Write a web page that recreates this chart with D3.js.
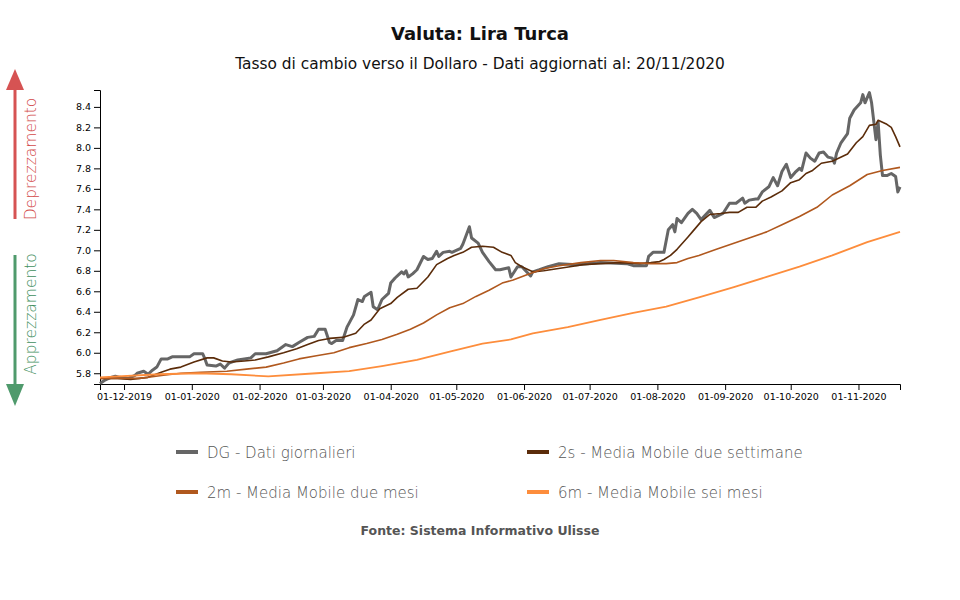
<!DOCTYPE html>
<html><head><meta charset="utf-8">
<script src="https://cdn.jsdelivr.net/npm/d3@7"></script>
<style>
body{margin:0;background:#fff;}
svg{display:block;font-family:"DejaVu Sans",sans-serif;}
</style></head>
<body><svg id="c" width="960" height="600"></svg>
<script>
const title = "Valuta: Lira Turca";
const subtitle = "Tasso di cambio verso il Dollaro - Dati aggiornati al: 20/11/2020";
const source = "Fonte: Sistema Informativo Ulisse";
const seriesNames = ["DG - Dati giornalieri","2s - Media Mobile due settimane","2m - Media Mobile due mesi","6m - Media Mobile sei mesi"];
const xDomain = ["2019-11-20","2020-11-20"];
const yDomain = [5.695, 8.565];
const yTicks = [5.8,6.0,6.2,6.4,6.6,6.8,7.0,7.2,7.4,7.6,7.8,8.0,8.2,8.4];
const xTicks = ["2019-12-01","2020-01-01","2020-02-01","2020-03-01","2020-04-01","2020-05-01","2020-06-01","2020-07-01","2020-08-01","2020-09-01","2020-10-01","2020-11-01"];

const dgDates = ["2019-11-20","2019-11-22","2019-11-25","2019-11-27","2019-11-29","2019-12-03","2019-12-06","2019-12-07","2019-12-10","2019-12-12","2019-12-14","2019-12-16","2019-12-18","2019-12-21","2019-12-23","2019-12-27","2019-12-31",
"2020-01-02","2020-01-06","2020-01-07","2020-01-08","2020-01-12","2020-01-14","2020-01-16","2020-01-18","2020-01-22","2020-01-25","2020-01-28","2020-01-30",
"2020-02-04","2020-02-09","2020-02-13","2020-02-16","2020-02-19","2020-02-23","2020-02-26","2020-02-28",
"2020-03-02","2020-03-04","2020-03-05","2020-03-07","2020-03-10","2020-03-12","2020-03-15","2020-03-17","2020-03-19","2020-03-20","2020-03-23","2020-03-24","2020-03-26","2020-03-28","2020-03-31",
"2020-04-01","2020-04-03","2020-04-06","2020-04-07","2020-04-08","2020-04-09","2020-04-11","2020-04-13","2020-04-16","2020-04-18","2020-04-20","2020-04-22","2020-04-23","2020-04-25","2020-04-28","2020-04-29",
"2020-05-03","2020-05-04","2020-05-07","2020-05-08","2020-05-11","2020-05-13","2020-05-16","2020-05-19","2020-05-21","2020-05-25","2020-05-26","2020-05-29","2020-05-31",
"2020-06-04","2020-06-05","2020-06-08","2020-06-12","2020-06-17","2020-06-25",
"2020-07-06","2020-07-18","2020-07-21","2020-07-27","2020-07-28","2020-07-30",
"2020-08-04","2020-08-06","2020-08-08","2020-08-09","2020-08-10","2020-08-12","2020-08-15","2020-08-17","2020-08-19","2020-08-21","2020-08-25","2020-08-27","2020-08-31",
"2020-09-03","2020-09-06","2020-09-09","2020-09-10","2020-09-12","2020-09-15","2020-09-16","2020-09-18","2020-09-21","2020-09-23","2020-09-25","2020-09-27","2020-09-29",
"2020-10-01","2020-10-03","2020-10-05","2020-10-06","2020-10-08","2020-10-10","2020-10-12","2020-10-14","2020-10-16","2020-10-18","2020-10-20","2020-10-21","2020-10-22","2020-10-24","2020-10-27","2020-10-28","2020-10-30",
"2020-11-02","2020-11-03","2020-11-04","2020-11-06","2020-11-07","2020-11-09","2020-11-10","2020-11-11","2020-11-12","2020-11-14","2020-11-16","2020-11-18","2020-11-19","2020-11-20"];
const dgValues = [5.70,5.73,5.76,5.77,5.76,5.75,5.78,5.80,5.82,5.79,5.83,5.86,5.94,5.94,5.96,5.96,5.96,
5.99,5.99,5.94,5.88,5.87,5.89,5.85,5.90,5.93,5.94,5.95,5.99,
5.99,6.02,6.08,6.06,6.10,6.15,6.16,6.23,
6.23,6.10,6.09,6.12,6.12,6.25,6.37,6.52,6.50,6.55,6.59,6.45,6.42,6.52,6.58,
6.68,6.73,6.79,6.77,6.80,6.74,6.77,6.81,6.94,6.91,6.92,6.99,6.94,6.98,6.99,6.98,
7.02,7.06,7.23,7.12,7.07,6.98,6.89,6.81,6.81,6.83,6.74,6.84,6.84,
6.75,6.79,6.81,6.84,6.87,6.86,
6.88,6.87,6.85,6.85,6.94,6.98,
6.98,7.20,7.25,7.18,7.31,7.27,7.36,7.40,7.36,7.30,7.39,7.32,7.36,
7.46,7.46,7.51,7.46,7.49,7.50,7.50,7.57,7.62,7.71,7.63,7.77,7.84,
7.71,7.76,7.80,7.78,7.95,7.90,7.87,7.95,7.96,7.91,7.90,7.85,7.95,8.05,8.14,8.29,8.37,
8.44,8.52,8.44,8.54,8.44,8.08,8.25,7.93,7.73,7.73,7.75,7.72,7.57,7.62];

const ma2sDates = ["2019-11-20","2019-11-28","2019-12-04","2019-12-12","2019-12-18","2019-12-22","2019-12-27","2020-01-02","2020-01-08","2020-01-11","2020-01-15","2020-01-19","2020-01-25","2020-01-30","2020-02-05","2020-02-12","2020-02-18","2020-02-23","2020-02-28","2020-03-04","2020-03-10","2020-03-16","2020-03-20","2020-03-23","2020-03-27","2020-04-01","2020-04-04","2020-04-09","2020-04-13","2020-04-18","2020-04-22","2020-04-27","2020-04-30","2020-05-04","2020-05-08","2020-05-13","2020-05-18","2020-05-22","2020-05-26","2020-05-28","2020-05-31","2020-06-05","2020-06-10","2020-06-16","2020-06-22","2020-06-28","2020-07-06","2020-07-15","2020-07-24","2020-07-29","2020-08-02","2020-08-04","2020-08-07","2020-08-10","2020-08-15","2020-08-17","2020-08-21","2020-08-25","2020-08-30","2020-09-03","2020-09-07","2020-09-11","2020-09-15","2020-09-18","2020-09-22","2020-09-27","2020-10-01","2020-10-05","2020-10-08","2020-10-11","2020-10-15","2020-10-20","2020-10-27","2020-10-31","2020-11-03","2020-11-06","2020-11-09","2020-11-10","2020-11-14","2020-11-16","2020-11-18","2020-11-20"];
const ma2sValues = [5.75,5.75,5.74,5.76,5.81,5.84,5.86,5.91,5.95,5.95,5.92,5.91,5.92,5.93,5.96,6.00,6.04,6.08,6.12,6.14,6.15,6.19,6.28,6.32,6.43,6.48,6.54,6.62,6.63,6.74,6.86,6.92,6.95,6.98,7.03,7.04,7.03,6.98,6.95,6.88,6.84,6.79,6.80,6.82,6.84,6.86,6.87,6.88,6.87,6.88,6.89,6.91,6.95,7.01,7.13,7.18,7.28,7.35,7.36,7.37,7.37,7.42,7.42,7.48,7.52,7.58,7.66,7.69,7.75,7.78,7.85,7.87,7.94,8.05,8.11,8.22,8.23,8.27,8.23,8.20,8.11,8.01];

const ma2mDates = ["2019-11-20","2019-12-08","2019-12-19","2019-12-27","2020-01-05","2020-01-17","2020-01-26","2020-02-04","2020-02-12","2020-02-19","2020-02-27","2020-03-06","2020-03-13","2020-03-21","2020-03-28","2020-04-04","2020-04-10","2020-04-16","2020-04-22","2020-04-28","2020-05-04","2020-05-10","2020-05-16","2020-05-22","2020-05-27","2020-06-02","2020-06-10","2020-06-17","2020-06-27","2020-07-06","2020-07-12","2020-07-21","2020-07-29","2020-08-05","2020-08-10","2020-08-15","2020-08-20","2020-08-28","2020-09-05","2020-09-12","2020-09-20","2020-09-27","2020-10-05","2020-10-13","2020-10-20","2020-10-28","2020-11-05","2020-11-12","2020-11-20"];
const ma2mValues = [5.75,5.75,5.78,5.80,5.81,5.82,5.84,5.86,5.90,5.94,5.97,6.00,6.05,6.09,6.13,6.18,6.23,6.29,6.37,6.44,6.48,6.55,6.61,6.68,6.71,6.76,6.82,6.85,6.88,6.90,6.90,6.88,6.87,6.87,6.88,6.92,6.95,7.01,7.07,7.12,7.18,7.25,7.33,7.42,7.54,7.63,7.74,7.78,7.81];

const ma6mDates = ["2019-11-20","2019-12-17","2020-01-04","2020-01-19","2020-02-05","2020-02-27","2020-03-13","2020-03-28","2020-04-13","2020-04-28","2020-05-13","2020-05-26","2020-06-05","2020-06-21","2020-07-06","2020-07-21","2020-08-05","2020-08-20","2020-09-05","2020-09-20","2020-10-05","2020-10-20","2020-11-05","2020-11-20"];
const ma6mValues = [5.76,5.79,5.80,5.79,5.77,5.80,5.82,5.87,5.93,6.01,6.09,6.13,6.19,6.25,6.32,6.39,6.45,6.54,6.64,6.74,6.84,6.95,7.08,7.18];

const colors = ["#666666","#5b2c0a","#b0581e","#fd8d3c"];
const widths = [3,1.6,1.6,1.8];

const parse = d3.timeParse("%Y-%m-%d");
const svg = d3.select("#c");
const M = {left:100,right:900,top:90,bottom:384};

const x = d3.scaleTime().domain(xDomain.map(parse)).range([M.left,M.right]);
const y = d3.scaleLinear().domain(yDomain).range([M.bottom,M.top]);

svg.append("text").attr("x",480).attr("y",40).attr("text-anchor","middle")
  .attr("font-size",18).attr("font-weight","bold").attr("fill","#111").text(title);
svg.append("text").attr("x",480).attr("y",69).attr("text-anchor","middle")
  .attr("font-size",15.4).attr("fill","#111").text(subtitle);

// axes
const gx = svg.append("g").attr("transform",`translate(0,${M.bottom})`)
  .call(d3.axisBottom(x).tickValues(xTicks.map(parse)).tickFormat(d3.timeFormat("%d-%m-%Y")));
gx.selectAll("text").attr("font-size",9.5).attr("font-family","DejaVu Sans").attr("fill","#000");
const gy = svg.append("g").attr("transform",`translate(${M.left},0)`)
  .call(d3.axisLeft(y).tickValues(yTicks).tickFormat(d3.format(".1f")));
gy.selectAll("text").attr("font-size",9.5).attr("font-family","DejaVu Sans").attr("fill","#000");

const series = [
  [dgDates,dgValues],[ma2sDates,ma2sValues],[ma2mDates,ma2mValues],[ma6mDates,ma6mValues]
];
const line = d3.line().x(d=>x(d[0])).y(d=>y(d[1]));
series.forEach((s,i)=>{
  const pts = s[0].map((d,j)=>[parse(d),s[1][j]]);
  svg.append("path").datum(pts).attr("d",line).attr("fill","none")
    .attr("stroke",colors[i]).attr("stroke-width",widths[i]).attr("stroke-linejoin","round");
});

// arrows
const red="#d65353", green="#4f9a6c";
svg.append("line").attr("x1",15).attr("x2",15).attr("y1",88).attr("y2",219).attr("stroke",red).attr("stroke-width",3);
svg.append("path").attr("d","M15,69 L24,90 L6,90 Z").attr("fill",red);
svg.append("text").attr("transform","translate(36,159) rotate(-90)").attr("text-anchor","middle")
  .attr("font-size",15.5).attr("font-weight",200).attr("fill","#d24a4a").text("Deprezzamento");
svg.append("line").attr("x1",15).attr("x2",15).attr("y1",255).attr("y2",386).attr("stroke",green).attr("stroke-width",3);
svg.append("path").attr("d","M15,406 L24,384 L6,384 Z").attr("fill",green);
svg.append("text").attr("transform","translate(36,314) rotate(-90)").attr("text-anchor","middle")
  .attr("font-size",15.5).attr("font-weight",200).attr("fill","#3f8f5e").text("Apprezzamento");

// legend
const lx=[176,527], ly=[452,492];
seriesNames.forEach((n,i)=>{
  const cx = lx[i%2], cy = ly[Math.floor(i/2)];
  svg.append("line").attr("x1",cx).attr("x2",cx+22).attr("y1",cy).attr("y2",cy)
    .attr("stroke",colors[i]).attr("stroke-width",4);
  svg.append("text").attr("x",cx+31).attr("y",cy+5.5).attr("font-size",15).attr("font-weight",200)
    .attr("fill","#555").text(n);
});
svg.append("text").attr("x",480).attr("y",535).attr("text-anchor","middle")
  .attr("font-size",12.5).attr("font-weight","bold").attr("fill","#555").text(source);
</script></body></html>
